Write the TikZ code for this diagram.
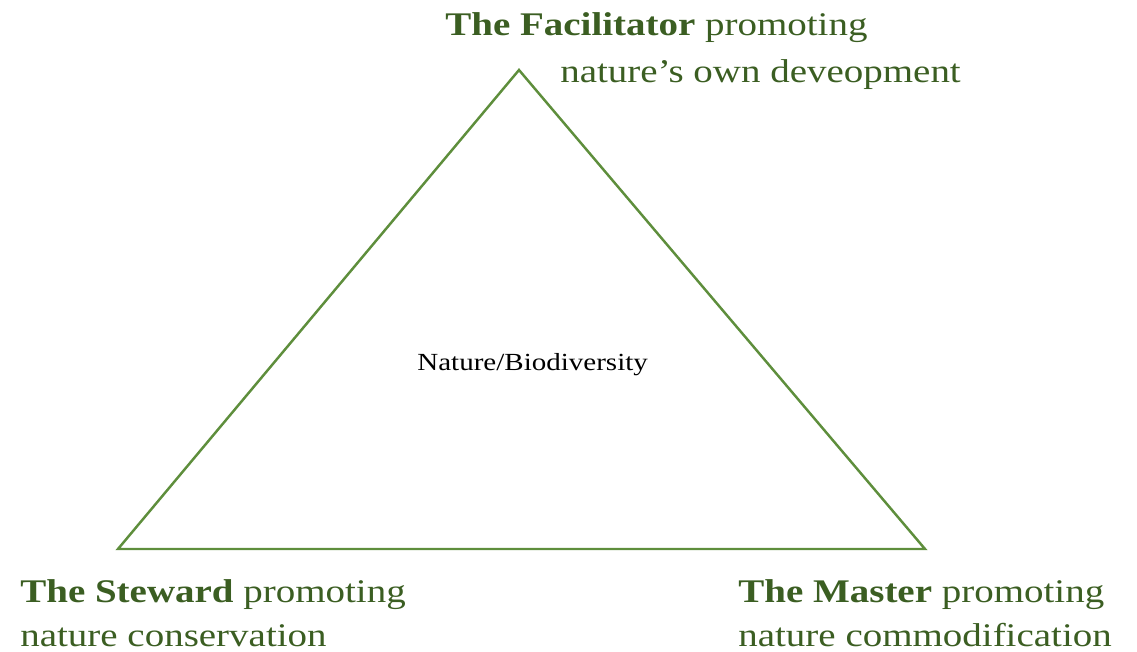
\documentclass[tikz,border=0pt]{standalone}
\usepackage{fontspec}
\setmainfont[FakeStretch=1.18]{Liberation Serif}
\definecolor{txtgreen}{HTML}{3B5E22}
\definecolor{linegreen}{HTML}{5E8E3C}
\begin{document}
\begin{tikzpicture}[x=0.02cm,y=-0.02cm,
  lbl/.style={anchor=base west,inner sep=0pt,text=txtgreen,font=\fontsize{18.8}{22}\selectfont},
  ctr/.style={anchor=base west,inner sep=0pt,text=black,font=\fontsize{14}{17}\selectfont},
  tri/.style={draw=linegreen,line width=1.4pt,line join=miter}]
\useasboundingbox (0,0) rectangle (1137,652);
\coordinate (top) at (519,70);
\coordinate (bl) at (118,549);
\coordinate (br) at (925,549);
\draw[tri] (top) -- (bl) -- (br) -- cycle;
\node[ctr] (center) at (417,370) {Nature/Biodiversity};
\node[lbl] (fac1) at (445,36) {\textbf{The Facilitator} promoting};
\node[lbl] (fac2) at (560,83) {nature’s own deveopment};
\node[lbl] (stw1) at (20,602) {\textbf{The Steward} promoting};
\node[lbl] (stw2) at (20,646) {nature conservation};
\node[lbl] (mst1) at (738,602) {\textbf{The Master} promoting};
\node[lbl] (mst2) at (738,646) {nature commodification};
\end{tikzpicture}
\end{document}
